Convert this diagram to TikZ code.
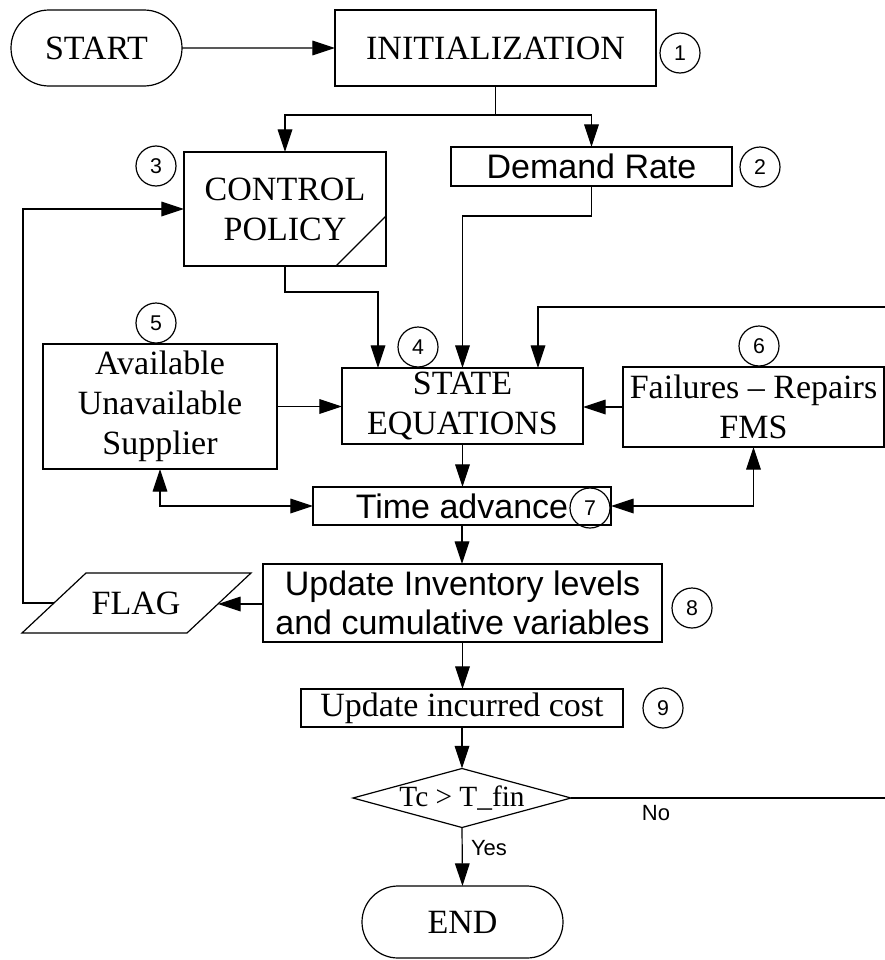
\documentclass[tikz,border=0pt]{standalone}
\usepackage{fontspec}
\setmainfont{Liberation Serif}
\setsansfont{Liberation Sans}
\usetikzlibrary{arrows.meta,shapes.misc,shapes.geometric}
\def\pxu{0.75pt}
\begin{document}
\begin{tikzpicture}[x=0.75pt,y=-0.75pt,
  line width=0.9pt,
  box/.style={draw, rectangle, inner sep=0pt, outer sep=0pt, align=center},
  term/.style={draw, rounded rectangle, inner sep=0pt, outer sep=0pt},
  serif/.style={font=\fontsize{25.5}{30}\selectfont},
  sans/.style={font=\sffamily\fontsize{25.5}{29}\selectfont},
  num/.style={draw, circle, minimum size=40*\pxu, inner sep=0pt, outer sep=0pt, font=\sffamily\fontsize{16}{16}\selectfont},
  lbl/.style={font=\sffamily\fontsize{16.5}{18}\selectfont, inner sep=0pt},
  arr/.style={-{Triangle[length=17pt,width=11pt]}},
  arrr/.style={{Triangle[length=17pt,width=11pt]}-{Triangle[length=17pt,width=11pt]}}
]
\useasboundingbox (0,0) rectangle (885,960);

% nodes
\node[term, serif, minimum width=171*\pxu, minimum height=76*\pxu] (start) at (96.5,48) {START};
\node[box, serif, minimum width=321*\pxu, minimum height=76*\pxu] (init) at (495.5,48) {INITIALIZATION};
\node[num] (c1) at (680,53) {1};

\node[box, serif, minimum width=202*\pxu, minimum height=114*\pxu] (ctrl) at (285,209) {CONTROL\\POLICY};
\node[num] (c3) at (156,166) {3};
\draw ([xshift=-50*\pxu]ctrl.south east) -- ([yshift=50*\pxu]ctrl.south east);

\node[box, sans, minimum width=281*\pxu, minimum height=39*\pxu] (demand) at (591.5,166.5) {Demand Rate};
\node[num] (c2) at (760,167) {2};

\node[box, serif, minimum width=241*\pxu, minimum height=76*\pxu] (state) at (462.5,406) {STATE\\EQUATIONS};
\node[num] (c4) at (418,347) {4};

\node[box, serif, minimum width=234*\pxu, minimum height=125*\pxu] (avail) at (160,406.5) {Available\\Unavailable\\Supplier};
\node[num] (c5) at (156,323) {5};

\node[box, serif, minimum width=261*\pxu, minimum height=80*\pxu] (fail) at (753.5,407) {Failures -- Repairs\\FMS};
\node[num] (c6) at (759,346) {6};

\node[box, sans, minimum width=298*\pxu, minimum height=38*\pxu] (time) at (462,506) {Time advance};
\node[num] (c7) at (590,508) {7};

\node[box, sans, minimum width=399*\pxu, minimum height=78*\pxu, font=\sffamily\fontsize{25.5}{29}\selectfont] (upd) at (462.5,603) {Update Inventory levels\\and cumulative variables};
\node[num] (c8) at (692,608) {8};

\draw (86,573) -- (251,573) -- (187,633) -- (22,633) -- cycle;
\node[serif, inner sep=0pt] (flag) at (136,603) {FLAG};
\coordinate (flagR) at (218,604);
\coordinate (flagL) at (54,603);

\node[box, serif, minimum width=322*\pxu, minimum height=38*\pxu] (cost) at (462,708) {Update incurred cost};
\node[num] (c9) at (663,708) {9};

\node[draw, diamond, aspect=3.7, inner sep=0pt, outer sep=0pt, minimum width=218*\pxu, minimum height=59*\pxu, font=\fontsize{22}{24}\selectfont] (dec) at (462,798) {Tc > T\_fin};

\node[term, serif, minimum width=201*\pxu, minimum height=72*\pxu] (end) at (462.5,922) {END};

% junctions
\coordinate (j1) at (495.5,115);
\coordinate (j2) at (462.5,216);
\coordinate (j3) at (378,292);
\coordinate (j4) at (538,307);
\coordinate (edgeTop) at (885,307);
\coordinate (edgeNo) at (885,798);
\coordinate (fb) at (23,603);

% connectors
\draw[arr] (start) -- (init);
\draw (init.south) -- (j1);
\draw[arr] (j1) -| (ctrl.north);
\draw[arr] (j1) -| (demand.north);
\draw[arr] (demand.south) |- (j2) -- (state.north);
\draw[arr] (ctrl.south) |- (j3) -- (j3 |- state.north);
\draw[arr] (edgeTop) -- (j4) -- (j4 |- state.north);
\draw[arr] (avail.east) -- (avail.east -| state.west);
\draw[arr] (fail.west) -- (fail.west -| state.east);
\draw[arr] (state.south) -- (state.south |- time.north);
\draw[arrr] (avail.south) |- (time.west);
\draw[arrr] (time.east) -| (fail.south);
\draw[arr] (time.south) -- (time.south |- upd.north);
\draw[arr] (upd.west |- flagR) -- (flagR);
\draw[arr] (flagL) -- (fb) |- (ctrl.west);
\draw[arr] (upd.south) -- (upd.south |- cost.north);
\draw[arr] (cost.south) -- (dec.north);
\draw[arr] (dec.south) -- (end.north);
\draw (dec.east) -- (edgeNo);

\node[lbl] (yes) at (489,848) {Yes};
\node[lbl] (no) at (656,813) {No};
\end{tikzpicture}
\end{document}
